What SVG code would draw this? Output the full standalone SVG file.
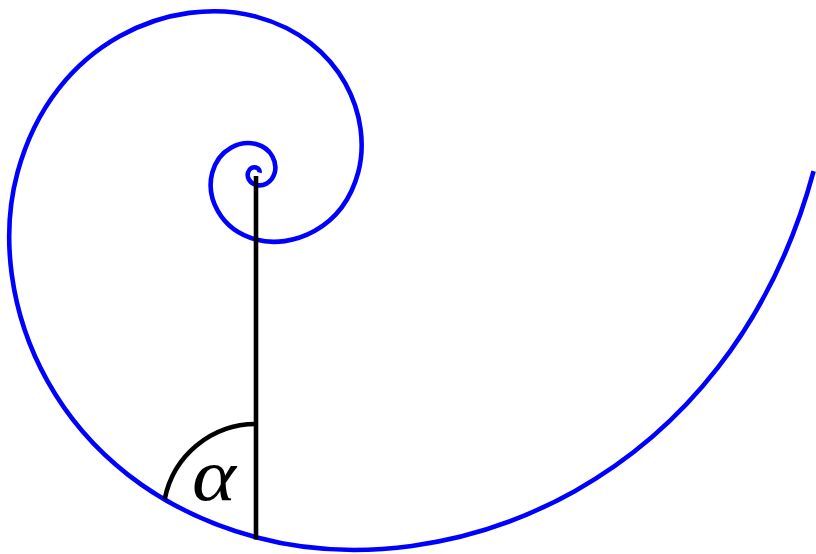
<svg xmlns="http://www.w3.org/2000/svg" width="816" height="554" viewBox="0 0 816 554">
  <style>
    .spiral { fill: none; stroke: #0000ff; stroke-width: 4.6; stroke-linejoin: round; stroke-linecap: butt; }
    .ink { fill: none; stroke: #000000; stroke-width: 4.6; stroke-linecap: butt; }
    .lbl { font-family: "Liberation Serif", "DejaVu Serif", serif; font-style: italic; font-size: 74px; fill: #000000; }
  </style>
  <rect width="816" height="554" fill="#ffffff"/>
  <g id="spiral" transform="translate(0,-2.3)">
    <path class="spiral" d="M259.432,175 C259.918,173.201 258.938,170.548 256,169.755 C253.25,169.013 249.197,170.511 247.985,175 C246.85,179.202 249.139,185.397 256,187.249 C262.422,188.983 271.889,185.485 274.72,175 C277.37,165.185 272.024,150.717 256,146.39 C241,142.34 218.883,150.507 212.27,175 C206.08,197.928 218.569,231.724 256,241.83 C291.039,251.291 342.685,232.203 358.13,175 C372.588,121.453 343.42,42.523 256,18.92 C174.167,-3.175 53.542,41.399 17.47,175 C-16.296,300.061 51.821,484.412 256,539.54 C447.128,591.145 728.85,487.03 813.6,173.5"/>
  </g>
  <g id="connectors">
    <path id="radius" class="ink" d="M256,176 V539.5"/>
    <path id="angle-arc" class="ink" d="M256,424 A93,93 0 0 0 164.7,499.3"/>
  </g>
  <g id="alpha-label">
    <text class="lbl" x="0" y="0" text-anchor="middle" transform="translate(214,499.5) scale(1.13,1)">α</text>
  </g>
</svg>
